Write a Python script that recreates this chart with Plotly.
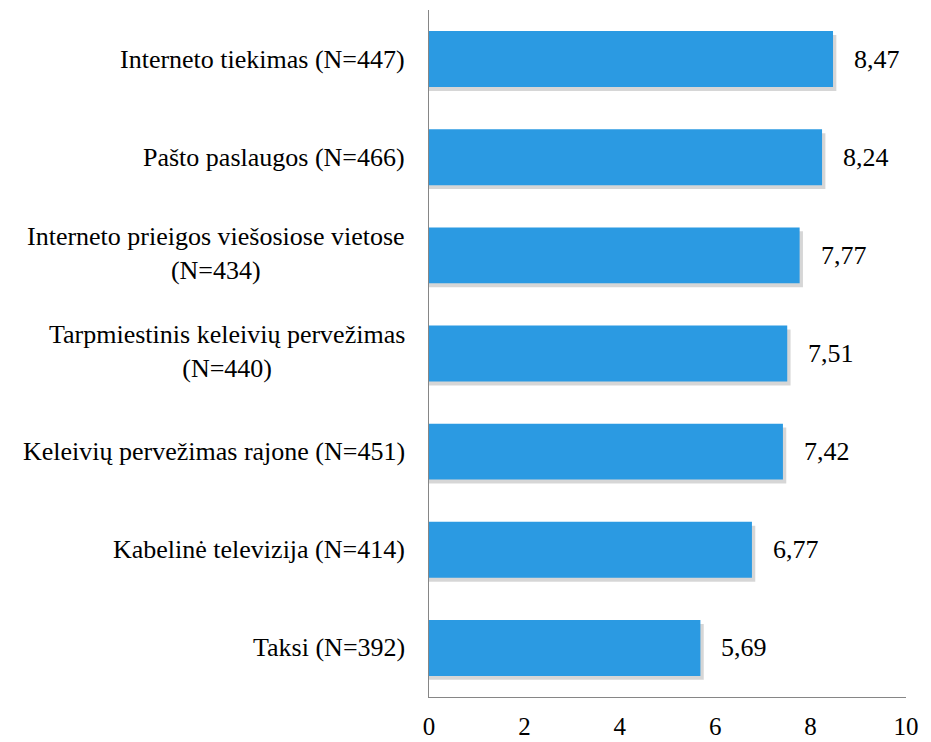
import plotly.graph_objects as go

categories = [
    "Interneto tiekimas (N=447)",
    "Pašto paslaugos (N=466)",
    "Interneto prieigos viešosiose vietose<br>(N=434)",
    "Tarpmiestinis keleivių pervežimas<br>(N=440)",
    "Keleivių pervežimas rajone (N=451)",
    "Kabelinė televizija (N=414)",
    "Taksi (N=392)",
]
values = [8.47, 8.24, 7.77, 7.51, 7.42, 6.77, 5.69]
x_ticks = [0, 2, 4, 6, 8, 10]

FONT = "Liberation Serif"
FSIZE = 26
BAR_W = 0.57

fig = go.Figure()
# soft drop shadow
fig.add_trace(go.Bar(
    y=categories, x=[v + 0.07 for v in values], orientation="h",
    width=BAR_W, offset=-BAR_W / 2 + 0.04,
    marker=dict(color="rgba(0,0,0,0.16)", line=dict(width=0)),
    hoverinfo="skip", showlegend=False,
))
fig.add_trace(go.Bar(
    y=categories, x=values, orientation="h",
    width=BAR_W, offset=-BAR_W / 2,
    marker=dict(color="#2B9AE2", line=dict(width=0)),
    showlegend=False,
))

annotations = []
for c, v in zip(categories, values):
    annotations.append(dict(
        x=v, y=c, xref="x", yref="y", text=f"{v:.2f}".replace(".", ","),
        showarrow=False, xanchor="left", xshift=19,
        font=dict(family=FONT, size=FSIZE, color="#000000"),
    ))
    annotations.append(dict(
        x=0, y=c, xref="paper", yref="y", text=c, align="center",
        showarrow=False, xanchor="right", xshift=-22,
        yshift=2 if "<br>" in c else 0,
        font=dict(family=FONT, size=FSIZE, color="#000000"),
    ))

fig.update_layout(
    width=931, height=742,
    margin=dict(l=421, r=33, t=2, b=53),
    paper_bgcolor="white", plot_bgcolor="white",
    barmode="overlay",
    annotations=annotations,
    xaxis=dict(
        range=[0, 10], tickvals=x_ticks, ticktext=[str(t) for t in x_ticks],
        showgrid=False, zeroline=False, showline=True, linecolor="#868686",
        linewidth=1, ticks="", tickfont=dict(family=FONT, size=25, color="#000000"),
        ticklabelstandoff=7,
    ),
    yaxis=dict(
        autorange="reversed", showticklabels=False, showgrid=False,
        zeroline=False, showline=True, linecolor="#868686", linewidth=1, ticks="",
    ),
)

fig.write_html("out.html")
